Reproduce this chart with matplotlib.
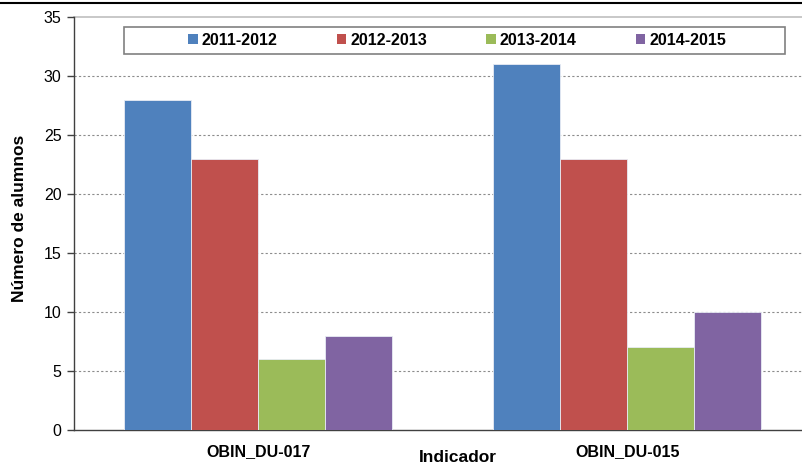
import matplotlib

matplotlib.use("Agg")
import matplotlib.pyplot as plt
import numpy as np
from matplotlib.patches import Patch, Rectangle
from matplotlib.lines import Line2D

plt.rcParams["font.family"] = ["Liberation Sans", "DejaVu Sans"]

indicadores = ["OBIN_DU-017", "OBIN_DU-015"]
cursos = ["2011-2012", "2012-2013", "2013-2014", "2014-2015"]
alumnos = {
    "2011-2012": [28, 31],
    "2012-2013": [23, 23],
    "2013-2014": [6, 7],
    "2014-2015": [8, 10],
}
colores = ["#4F81BD", "#C0504D", "#9BBB59", "#8064A2"]

W, H = 802, 471
fig = plt.figure(figsize=(W / 100, H / 100), dpi=100)
# axes run a little past the right border, like the original export
ax = fig.add_axes([74 / W, 1 - 430 / H, 737.5 / W, 413 / H])

x = np.arange(len(indicadores))
w = 0.1816
for i, (curso, col) in enumerate(zip(cursos, colores)):
    ax.bar(x + (i - 1.5) * w, alumnos[curso], w, color=col, edgecolor="#E8ECF4",
           linewidth=0.6, zorder=3, label=curso)

ax.set_xlim(-0.5, 1.5)
ax.set_ylim(0, 35)
ax.set_yticks(range(0, 36, 5))
ax.set_xticks(x)
ax.set_xticklabels(indicadores, fontsize=11.5, fontweight="bold")
ax.tick_params(axis="x", length=0, pad=10)
ax.tick_params(axis="y", length=5, width=1, color="#404040", labelsize=11.5, pad=4)
for t in range(5, 35, 5):
    ax.axhline(t, color="#8C8C8C", lw=0.8, ls=(0, (2, 2)), zorder=1)
ax.axhline(35, color="#BFBFBF", lw=1.2, zorder=1, clip_on=False)

for s in ("top", "right"):
    ax.spines[s].set_visible(False)
for s in ("left", "bottom"):
    ax.spines[s].set_color("#404040")
    ax.spines[s].set_linewidth(1.0)

fig.text(20 / W, 1 - 218 / H, "Número de alumnos", rotation=90, ha="center",
         va="center", fontsize=12.5, fontweight="bold")
fig.text(458 / W, 1 - 458 / H, "Indicador", ha="center", va="center",
         fontsize=12.5, fontweight="bold")

# thin rule along the top edge
fig.add_artist(Line2D([0, 1], [1 - 3 / H, 1 - 3 / H], color="black", lw=1.5,
                      transform=fig.transFigure))

# legend box is wider than its entries, so the frame is drawn on its own
fig.add_artist(Rectangle((124 / W, 1 - 54 / H), 661 / W, 27 / H, facecolor="white",
                         edgecolor="#808080", lw=1.2, transform=fig.transFigure,
                         zorder=4))
handles = [Patch(facecolor=c, edgecolor="none") for c in colores]
leg = fig.legend(handles, cursos, ncol=4, loc="center",
                 bbox_to_anchor=(457 / W, 1 - 40.5 / H),
                 prop={"size": 11.5, "weight": "bold"}, frameon=False,
                 handlelength=0.6, handleheight=0.6, handletextpad=0.25,
                 columnspacing=3.7, borderpad=0.3, borderaxespad=0)
leg.set_zorder(5)

fig.savefig("out.png", dpi=100)
